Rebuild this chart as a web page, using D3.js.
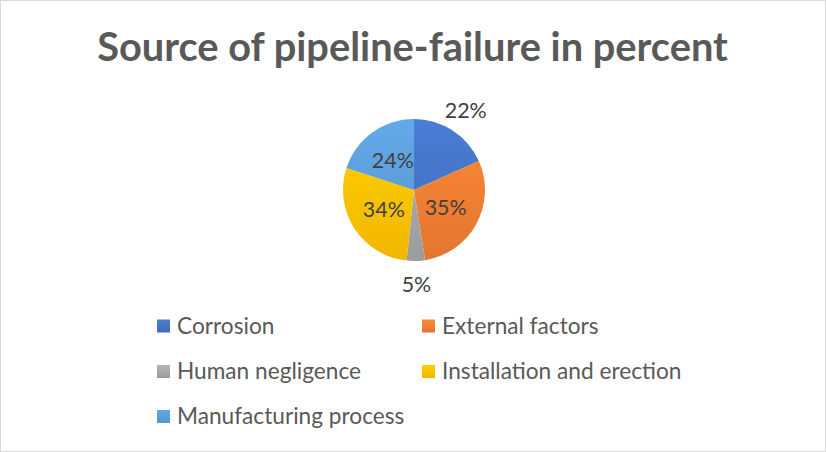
<!DOCTYPE html>
<html lang="en">
<head>
    <meta charset="UTF-8">
    <title>Source of pipeline-failure in percent</title>
    <script src="https://d3js.org/d3.v7.min.js"></script>
    <style>
        body {
            margin: 0;
            background: #fff;
        }
        svg text {
            font-family: Lato, "Noto Sans", sans-serif;
        }
        .title {
            fill: #595959;
            font-weight: bold;
        }
        .legend text {
            fill: #595959;
        }
        .label {
            fill: #404040;
        }
    </style>
</head>
<body>
    <svg width="826" height="452"></svg>

    <script>
        // Chart data
        const categories = ["Corrosion", "External factors", "Human negligence", "Installation and erection", "Manufacturing process"];
        const values = [22, 35, 5, 34, 24];
        const valueLabels = ["22%", "35%", "5%", "34%", "24%"];
        const colors = ["#4472C4", "#ED7D31", "#A5A5A5", "#FFC000", "#5B9BD5"];
        // labels Excel placed outside the pie
        const outsideLabels = ["Corrosion", "Human negligence"];

        const svg = d3.select("svg"),
            width = +svg.attr("width"),
            height = +svg.attr("height");

        // chart frame
        svg.append("rect")
            .attr("x", 0.5).attr("y", 0.5)
            .attr("width", width - 1).attr("height", height - 1)
            .attr("fill", "#fff")
            .attr("stroke", "#d9d9d9");

        // scale font size so a selection spans the wanted total width
        function fitWidth(sel, target) {
            let w = 0;
            sel.each(function() { w += this.getComputedTextLength(); });
            const fs = parseFloat(sel.attr("font-size"));
            sel.attr("font-size", fs * target / w);
        }

        // Title
        const title = svg.append("text")
            .attr("class", "title")
            .attr("x", 412.5)
            .attr("y", 61)
            .attr("text-anchor", "middle")
            .attr("font-size", 36)
            .text("Source of pipeline-failure in percent");
        fitWidth(title, 631);

        // gradients, lighter on top like the Office style
        const defs = svg.append("defs");
        function addGradient(id, c, units, y1, y2) {
            const g = defs.append("linearGradient")
                .attr("id", id)
                .attr("gradientUnits", units)
                .attr("x1", 0).attr("y1", y1)
                .attr("x2", 0).attr("y2", y2);
            g.append("stop").attr("offset", "0%").attr("stop-color", d3.color(c).brighter(0.25));
            g.append("stop").attr("offset", "100%").attr("stop-color", d3.color(c).darker(0.15));
        }

        // Pie
        const cx = 414, cy = 190, radius = 71;
        const pie = d3.pie().sort(null).value(d => d)(values);
        const arc = d3.arc().innerRadius(0).outerRadius(radius);

        colors.forEach((c, i) => {
            addGradient("grad" + i, c, "userSpaceOnUse", -radius, radius);
            addGradient("lgrad" + i, c, "objectBoundingBox", 0, 1);
        });

        const pieG = svg.append("g").attr("transform", `translate(${cx},${cy})`);

        pieG.selectAll("path")
            .data(pie)
            .enter().append("path")
            .attr("d", arc)
            .attr("fill", (d, i) => `url(#grad${i})`);

        const innerArc = d3.arc().innerRadius(36).outerRadius(36);
        const outerArc = d3.arc().innerRadius(95).outerRadius(95);

        const labels = pieG.selectAll(".label")
            .data(pie)
            .enter().append("text")
            .attr("class", "label")
            .attr("font-size", 20)
            .attr("text-anchor", "middle")
            .attr("dy", "0.35em")
            .attr("transform", (d, i) => {
                const a = outsideLabels.includes(categories[i]) ? outerArc : innerArc;
                return `translate(${a.centroid(d)})`;
            })
            .text((d, i) => valueLabels[i]);
        fitWidth(labels.filter((d, i) => i === 0), 42);
        labels.attr("font-size", labels.filter((d, i) => i === 0).attr("font-size"));

        // Legend: two columns
        const legend = svg.append("g").attr("class", "legend");
        const colX = [157, 422], rowY = [326, 371.5, 416.5];

        const item = legend.selectAll("g")
            .data(categories)
            .enter().append("g")
            .attr("transform", (d, i) => `translate(${colX[i % 2]},${rowY[Math.floor(i / 2)]})`);

        item.append("rect")
            .attr("x", 0).attr("y", -6.5)
            .attr("width", 13).attr("height", 13)
            .attr("fill", (d, i) => `url(#lgrad${i})`);

        const legendText = item.append("text")
            .attr("x", 20)
            .attr("y", 7.5)
            .attr("font-size", 20)
            .text(d => d);
        // total label width measured in the reference, nudged up for glyph height
        fitWidth(legendText, 905);
    </script>
</body>
</html>
